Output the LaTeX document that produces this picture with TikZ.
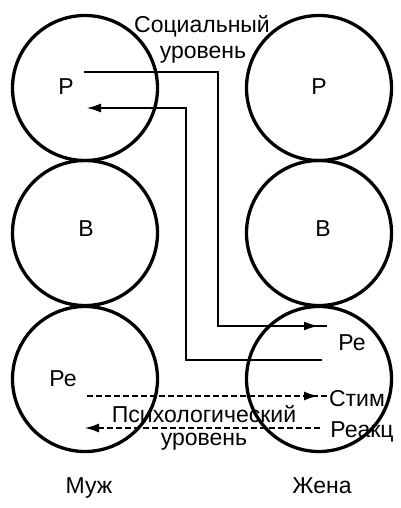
\documentclass[tikz,border=0pt]{standalone}
\usepackage{fontspec}
\setmainfont{Liberation Sans}
\usetikzlibrary{arrows.meta,decorations.markings}

\begin{document}
\begin{tikzpicture}[x=1pt,y=-1pt]
      \tikzset { ring/.style = { shape=circle,draw,line width=3.3pt,minimum size=145pt,inner sep=0pt } }
      \tikzset { word/.style = { anchor=base,inner sep=0pt,font=\fontsize{23}{26}\selectfont } }
      \tikzset { edge/.style = { ->,> = {Latex[length=15pt,width=9pt]},line width=2.5pt } }
      \tikzset { midtip/.style = { line width=2.5pt,postaction={decorate},
          decoration={markings,mark=at position -8pt with {\arrow{Latex[length=15pt,width=9pt]}}} } }
      \tikzset { psy/.style = { dash pattern=on 6pt off 3pt } }

      \useasboundingbox (0,0) rectangle (400,508);

      % husband
      \node[ring] (mr) at (85,88) {};
      \node[ring] (mb) at (85,233) {};
      \node[ring] (mc) at (85,379) {};
      % wife
      \node[ring] (wr) at (319,88) {};
      \node[ring] (wb) at (319,233) {};
      \node[ring] (wc) at (319,379) {};

      \node[word] (mrl) at (66,95) {Р};
      \node[word] (mbl) at (86,236) {В};
      \node[word] (mcl) at (63,386) {Ре};
      \node[word] (wrl) at (319,95) {Р};
      \node[word] (wbl) at (323,236) {В};
      \node[word] (wcl) at (352,350) {Ре};

      \node[word] (soc1) at (202,33) {Социальный};
      \node[word] (soc2) at (203,59) {уровень};
      \node[word] (psy1) at (204,422) {Психологический};
      \node[word] (psy2) at (204,445) {уровень};

      \node[word] (stim) at (357,406) {Стим};
      \node[word] (reak) at (362,437) {Реакц};
      \node[word] (husb) at (89,493) {Муж};
      \node[word] (wife) at (322,493) {Жена};

      % social level
      \coordinate (s1) at (84,72);
      \coordinate (k1) at (218,326);
      \coordinate (t1) at (327,326);
      \coordinate (s2) at (322,360);
      \coordinate (k2) at (186,108);
      \coordinate (t2) at (86,108);
      \draw[midtip] (s1) -| (k1) -- (t1);
      \draw[edge] (s2) -| (k2) -- (t2);

      % psychological level
      \coordinate (s3) at (87,396);
      \coordinate (t3) at (327,396);
      \coordinate (s4) at (320,428);
      \coordinate (t4) at (84,428);
      \draw[midtip,psy] (s3) -- (t3);
      \draw[edge,psy] (s4) -- (t4);

    \end{tikzpicture}
\end{document}
